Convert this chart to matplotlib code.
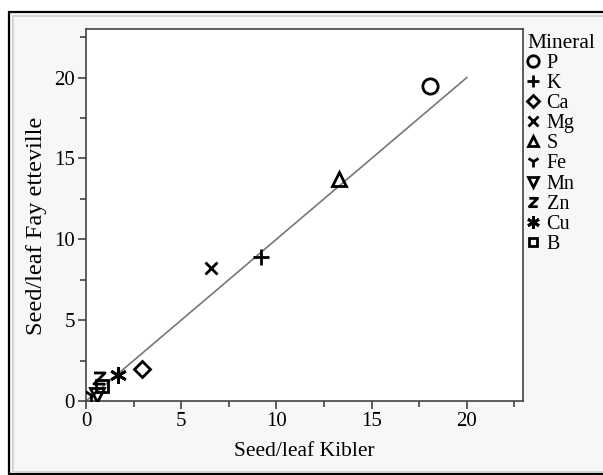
import matplotlib.pyplot as plt
from matplotlib.patches import Rectangle
from matplotlib.path import Path
from matplotlib.ticker import MultipleLocator

minerals = ['P', 'K', 'Ca', 'Mg', 'S', 'Fe', 'Mn', 'Zn', 'Cu', 'B']
kibler = [18.05, 9.2, 2.95, 6.55, 13.3, 0.25, 0.6, 0.7, 1.7, 0.85]
fayetteville = [19.5, 8.9, 1.95, 8.2, 13.7, 0.4, 0.4, 1.45, 1.6, 0.9]
line_x = [0, 20]  # 1:1 reference line

# open "Z" glyph used as a marker
z_marker = Path([(-1, 1), (1, 1), (-1, -1), (1, -1)],
                [Path.MOVETO, Path.LINETO, Path.LINETO, Path.LINETO])
markers = ['o', '+', 'D', 'x', '^', '1', 'v', z_marker, (6, 2, 0), 's']
sizes = [11, 11, 8, 9, 10, 11, 10, 8, 12, 8]
stroked = [False, True, False, True, False, True, False, False, True, False]

plt.rcParams['font.family'] = ['Liberation Serif', 'DejaVu Serif']

fig = plt.figure(figsize=(6.03, 4.75), dpi=100, facecolor='white')

# framed grey panel behind the plot
fig.patches.append(Rectangle((9 / 603, 1 / 475), 600 / 603, 462 / 475, transform=fig.transFigure,
                             facecolor='#f7f7f7', edgecolor='black', lw=1.6, zorder=-2))
fig.patches.append(Rectangle((13 / 603, 3 / 475), 596 / 603, 456 / 475, transform=fig.transFigure,
                             facecolor='none', edgecolor='#cccccc', lw=1.2, zorder=-1))

ax = fig.add_axes([86 / 603, 74 / 475, 437 / 603, 372 / 475])
ax.set_zorder(1)
ax.set_facecolor('white')

ax.plot(line_x, line_x, color='#777777', lw=1.2, zorder=1)

for name, x, y, m, s, st in zip(minerals, kibler, fayetteville, markers, sizes, stroked):
    ax.plot([x], [y], linestyle='none', marker=m, markersize=s, mew=2,
            mfc='black' if st else 'none', mec='black', color='black', label=name, zorder=3)

ax.set_xlim(0, 22.95)
ax.set_ylim(0, 23)
ax.xaxis.set_major_locator(MultipleLocator(5))
ax.xaxis.set_minor_locator(MultipleLocator(2.5))
ax.yaxis.set_major_locator(MultipleLocator(5))
ax.yaxis.set_minor_locator(MultipleLocator(2.5))
ax.tick_params(which='major', length=6, width=1.2, color='#444444', labelsize=15, pad=2)
ax.tick_params(which='minor', length=4, width=1.2, color='#444444')
for sp in ax.spines.values():
    sp.set_color('#444444')
    sp.set_linewidth(1.2)

ax.set_xlabel('Seed/leaf Kibler', fontsize=15.5, labelpad=8)
ax.set_ylabel('Seed/leaf Fay etteville', fontsize=17.5)
ax.yaxis.set_label_coords(-0.09, 0.47)

leg = ax.legend(title='Mineral', loc='upper left', bbox_to_anchor=(1.01, 0.987), frameon=False,
                fontsize=14.5, title_fontsize=15.5, markerscale=0.75, handlelength=0.6,
                handletextpad=0.35, labelspacing=0.05, borderpad=0, borderaxespad=0,
                alignment='left')

fig.savefig('out.png', dpi=100, facecolor=fig.get_facecolor())
